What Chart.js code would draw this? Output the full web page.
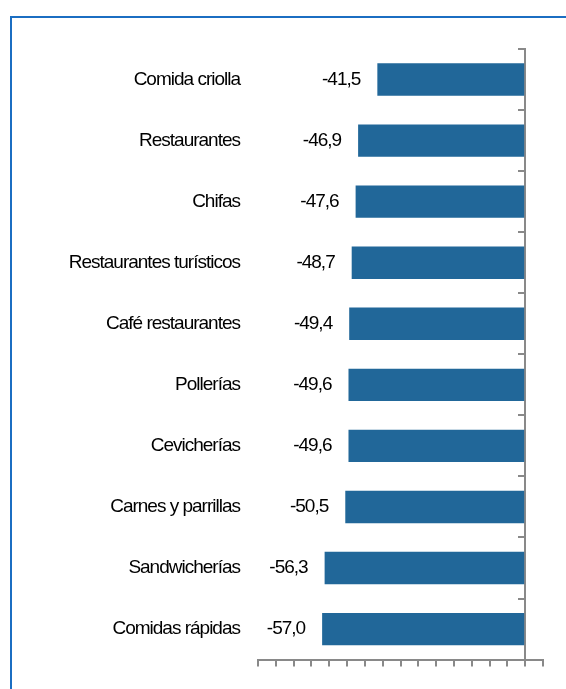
<!DOCTYPE html>
<html>
<head>
<meta charset="utf-8">
<script src="https://cdn.jsdelivr.net/npm/chart.js@4/dist/chart.umd.min.js"></script>
<style>
  body { margin: 0; background: #fff; }
  #frame { position: absolute; left: 10px; top: 16px; width: 600px; height: 700px;
           border-top: 2px solid #1b6ec2; border-left: 2px solid #1b6ec2; }
  canvas { position: absolute; left: 0; top: 0; }
</style>
</head>
<body>
<div id="frame"></div>
<canvas id="chart" width="566" height="689"></canvas>
<script>
// Categories and values (percent change)
const categories = ['Comida criolla', 'Restaurantes', 'Chifas', 'Restaurantes turísticos', 'Café restaurantes',
                    'Pollerías', 'Cevicherías', 'Carnes y parrillas', 'Sandwicherías', 'Comidas rápidas'];
const values = [-41.5, -46.9, -47.6, -48.7, -49.4, -49.6, -49.6, -50.5, -56.3, -57.0];
const xMin = -75, xMax = 5, xStep = 5;

const axisGray = '#898989';
const fontFamily = '"Liberation Sans", Arial, sans-serif';

// narrow look: tighten letter spacing for all text on the canvas
const condensed = {
    id: 'condensed',
    beforeDraw(chart) { chart.ctx.letterSpacing = '-1px'; },
    afterDraw(chart) { chart.ctx.letterSpacing = '0px'; }
};

// Value labels to the left of each bar
const valueLabels = {
    id: 'valueLabels',
    afterDatasetsDraw(chart) {
        const ctx = chart.ctx;
        const meta = chart.getDatasetMeta(0);
        ctx.save();
        ctx.font = '19px ' + fontFamily;
        ctx.fillStyle = '#000';
        ctx.textAlign = 'right';
        ctx.textBaseline = 'middle';
        meta.data.forEach((bar, i) => {
            const txt = values[i].toFixed(1).replace('.', ',');
            ctx.fillText(txt, bar.x - 17, bar.y);
        });
        ctx.restore();
    }
};

new Chart(document.getElementById('chart'), {
    type: 'bar',
    data: {
        labels: categories,
        datasets: [{
            data: values,
            backgroundColor: '#216799',
            barPercentage: 0.53,
            categoryPercentage: 1
        }]
    },
    options: {
        indexAxis: 'y',
        responsive: false,
        animation: false,
        devicePixelRatio: 1,
        layout: { padding: { top: 49, right: 23, bottom: 0, left: 0 } },
        plugins: { legend: { display: false }, tooltip: { enabled: false } },
        scales: {
            x: {
                min: xMin, max: xMax,
                ticks: { stepSize: xStep, display: false },
                grid: { drawOnChartArea: false, drawTicks: true, tickLength: 7, color: axisGray, lineWidth: 2 },
                border: { display: true, color: axisGray, width: 2 },
                afterFit(scale) { scale.height = 25; }
            },
            y: {
                position: 'left',
                grid: { display: false, drawTicks: false },
                border: { display: false },
                ticks: { padding: 18, color: '#000', font: { family: fontFamily, size: 19 } },
                afterFit(scale) { scale.width = 258; }
            },
            y2: {
                type: 'category',
                position: { x: 0 },
                offset: true,
                grid: { offset: true, drawOnChartArea: false, drawTicks: true, tickLength: 6, color: axisGray, lineWidth: 2 },
                border: { display: true, color: axisGray, width: 2 },
                ticks: { display: false }
            }
        }
    },
    plugins: [condensed, valueLabels]
});
</script>
</body>
</html>
